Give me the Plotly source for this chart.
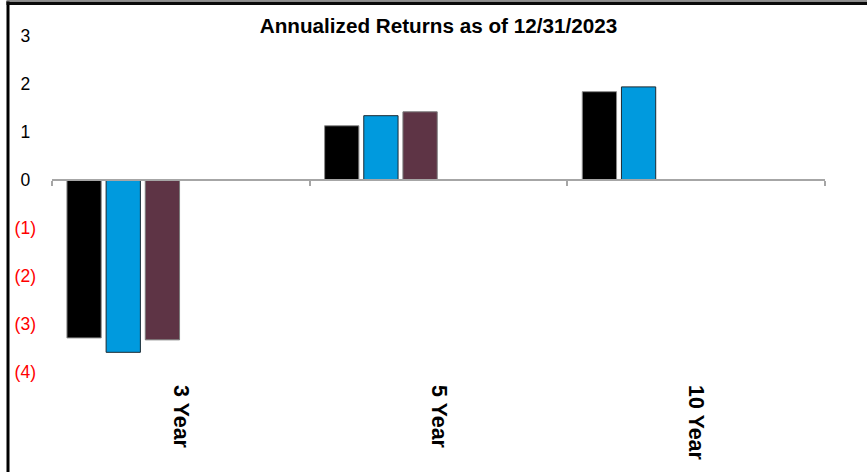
import plotly.graph_objects as go

categories = ["3 Year", "5 Year", "10 Year"]
series_names = ["Series A", "Series B", "Series C"]
series_a = [-3.29, 1.13, 1.84]
series_b = [-3.59, 1.34, 1.94]
series_c = [-3.33, 1.42, None]
colors = ["#000000", "#009ADE", "#5E3445"]
outlines = ["#8a8a8a", "#1a2a33", "#7a7a7a"]
y_ticks = [3, 2, 1, 0, -1, -2, -3, -4]

def fmt(v):
    if v < 0:
        return f'<span style="color:#FF0000">({abs(v)})</span>'
    return f'{v}<span style="color:rgba(0,0,0,0)">)</span>'

fig = go.Figure()
xs = list(range(len(categories)))
for i, (name, vals) in enumerate(zip(series_names, [series_a, series_b, series_c])):
    fig.add_trace(go.Bar(
        x=xs, y=vals, name=name,
        width=0.133, offset=-0.442 + i * 0.152,
        marker=dict(color=colors[i], line=dict(color=outlines[i], width=1)),
        showlegend=False,
    ))

y_min, y_max = -4, 3
zero_pos = (0 - y_min) / (y_max - y_min)

# frame lines (pixel positions converted to paper coordinates)
PL, PT, PW, PH = 52, 36, 773, 336
def px(x):
    return (x - PL) / PW
def py(y):
    return (PT + PH - y) / PH

fig.update_layout(
    width=867, height=472,
    margin=dict(l=PL, r=867 - PL - PW, t=PT, b=472 - PT - PH),
    paper_bgcolor="white", plot_bgcolor="white",
    barmode="overlay",
    font=dict(family="Liberation Sans, Arial, sans-serif", size=17.5, color="black"),
    title=dict(text="<b>Annualized Returns as of 12/31/2023</b>", x=0.5, xref="paper",
               y=0.945, yanchor="middle", font=dict(size=20.7)),
    xaxis=dict(range=[-0.5, 2.5], tickvals=xs, ticktext=[f"<b>{c}</b>" for c in categories],
               tickangle=90, showline=False, showgrid=False, zeroline=False, ticks="",
               ticklabelstandoff=12, tickfont=dict(size=21.5)),
    xaxis2=dict(range=[-0.5, 2.5], overlaying="x", anchor="free", position=zero_pos,
                side="bottom", tickvals=[-0.5, 0.5, 1.5, 2.5], showticklabels=False,
                ticks="outside", ticklen=5, tickcolor="#a6a6a6", tickwidth=1.5,
                showline=True, linecolor="#a6a6a6", linewidth=1.5, showgrid=False,
                zeroline=False),
    yaxis=dict(range=[y_min, y_max], tickvals=y_ticks, ticktext=[fmt(v) for v in y_ticks],
               showgrid=False, zeroline=False, showline=False, ticklabelstandoff=15,
               tickfont=dict(size=17.5)),
    shapes=[
        dict(type="rect", xref="paper", yref="paper",
             x0=px(6.5), x1=px(9.5), y0=py(472), y1=py(1),
             fillcolor="black", line=dict(width=0)),
        dict(type="rect", xref="paper", yref="paper",
             x0=px(6.5), x1=px(867), y0=py(5), y1=py(1.5),
             fillcolor="#0a0a0a", line=dict(width=0)),
        dict(type="rect", xref="paper", yref="paper",
             x0=px(6.5), x1=px(867), y0=py(1.5), y1=py(0),
             fillcolor="#8f8f8f", line=dict(width=0)),
    ],
)
# invisible point to activate the overlay axis that draws the zero line with its ticks
fig.add_trace(go.Scatter(x=[0], y=[0], xaxis="x2", mode="markers",
                         marker=dict(opacity=0), showlegend=False, hoverinfo="skip"))

fig.write_html("out.html", config={"displayModeBar": False},
               post_script="document.body.style.margin='0';")
